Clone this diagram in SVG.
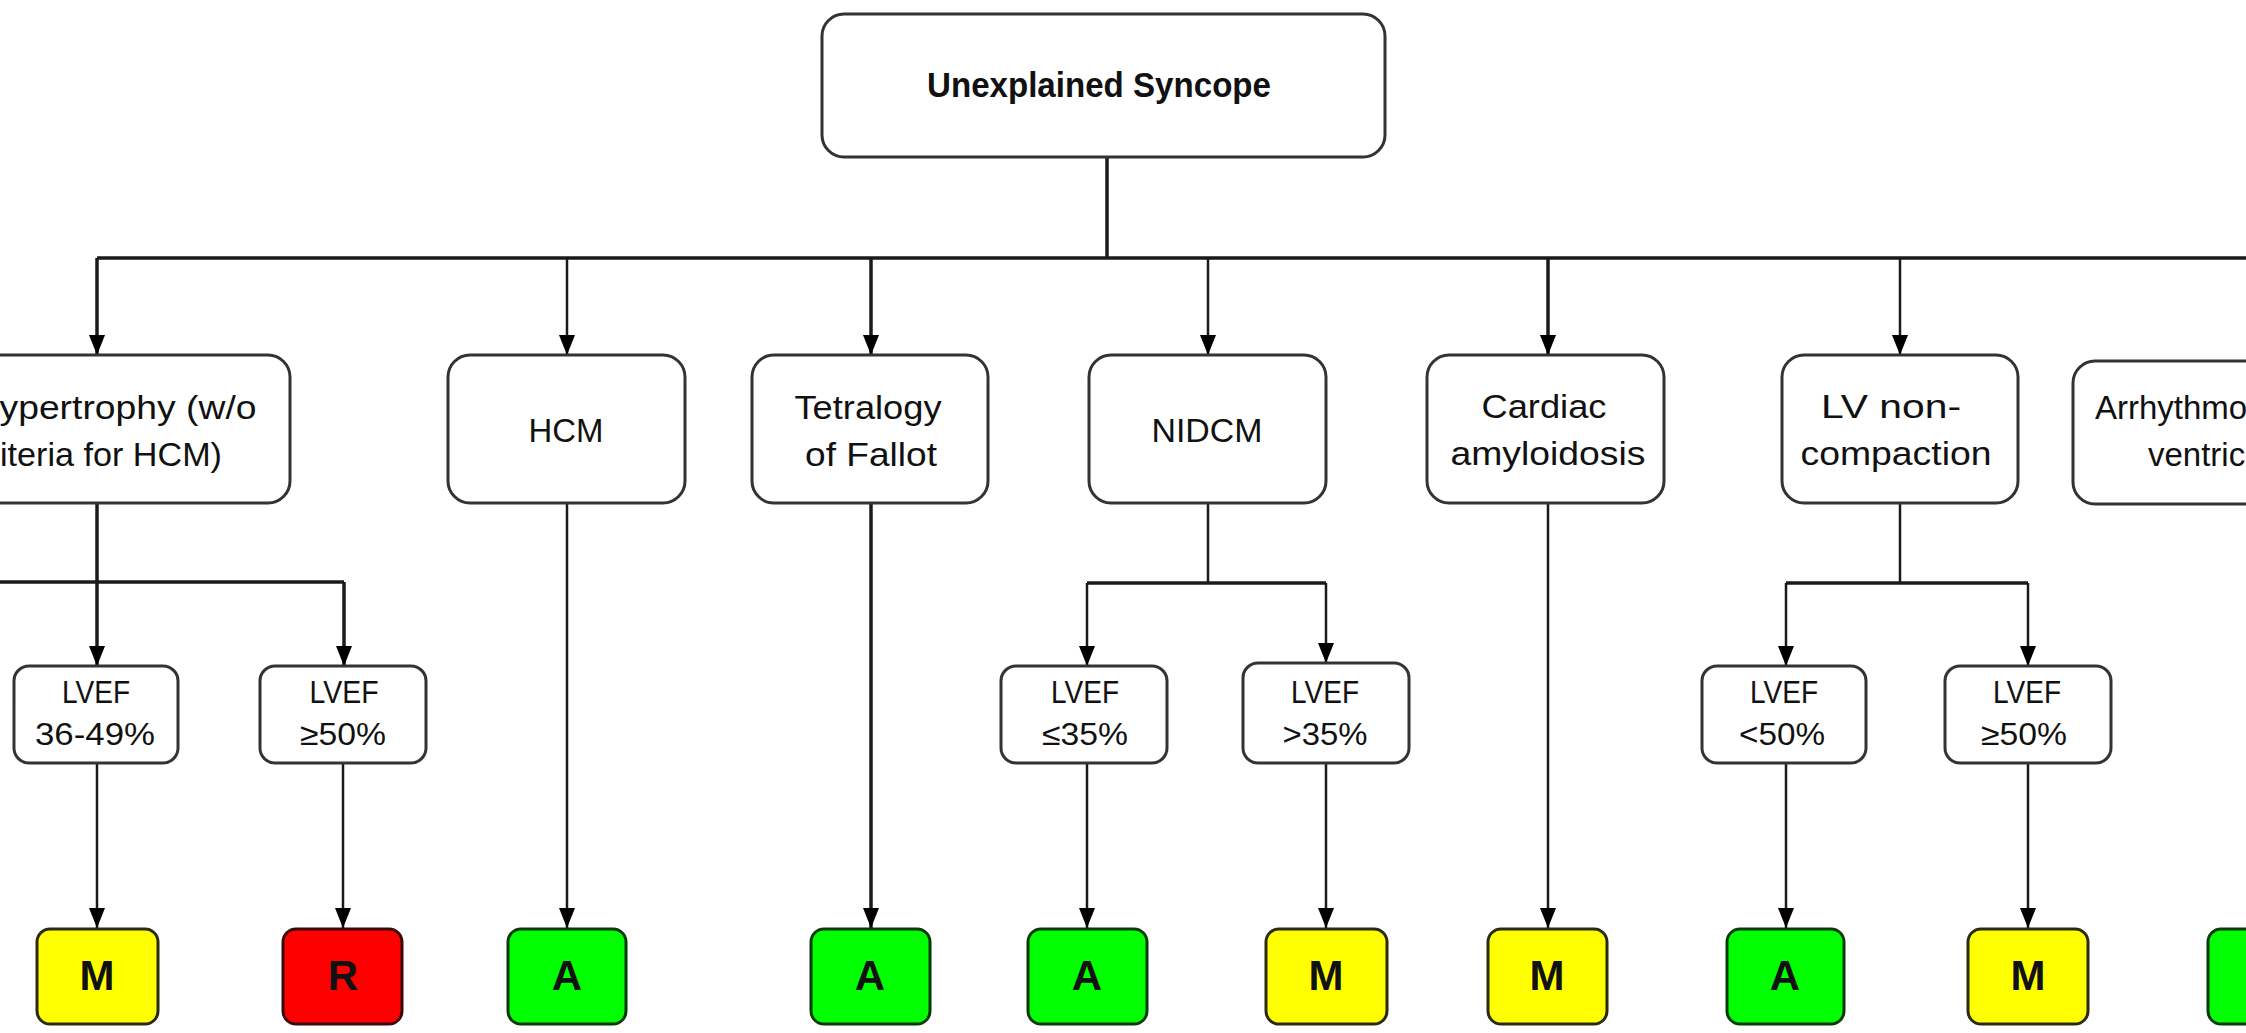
<svg xmlns="http://www.w3.org/2000/svg" width="2246" height="1033" viewBox="0 0 2246 1033">
<defs>
<style>
.box{fill:#fff;stroke:#333;stroke-width:3}
.t{font-family:"Liberation Sans",Arial,sans-serif;fill:#111;text-anchor:middle}
.l2{font-size:33px}
.lv{font-size:31px}
.root{font-size:35px;font-weight:bold}
.out{font-size:42px;font-weight:bold}
.c{fill:none;stroke:#1a1a1a}
.w3{stroke-width:3.5}
.w2{stroke-width:2.5}
.y{fill:#ffff00;stroke:#2a2a10;stroke-width:3}
.r{fill:#ff0000;stroke:#3a0a0a;stroke-width:3}
.g{fill:#00ff00;stroke:#063a06;stroke-width:3}
</style>
<marker id="ah" viewBox="0 0 20 16" refX="20" refY="8" markerWidth="20" markerHeight="16" markerUnits="userSpaceOnUse" orient="auto">
<path d="M0,0 L20,8 L0,16 Z" fill="#000"/>
</marker>
</defs>
<rect width="2246" height="1033" fill="#fff"/>

<g id="connectors">
<path class="c w3" d="M1107,157 V258"/>
<path class="c w3" d="M97,258 H2250"/>
<path class="c w3" d="M97,258 V355" marker-end="url(#ah)"/>
<path class="c w2" d="M567,258 V355" marker-end="url(#ah)"/>
<path class="c w3" d="M871,258 V355" marker-end="url(#ah)"/>
<path class="c w2" d="M1208,258 V355" marker-end="url(#ah)"/>
<path class="c w3" d="M1548,258 V355" marker-end="url(#ah)"/>
<path class="c w2" d="M1900,258 V355" marker-end="url(#ah)"/>

<path class="c w3" d="M97,503 V666" marker-end="url(#ah)"/>
<path class="c w3" d="M-10,582 H344"/>
<path class="c w3" d="M344,582 V666" marker-end="url(#ah)"/>

<path class="c w2" d="M567,503 V928" marker-end="url(#ah)"/>
<path class="c w3" d="M871,503 V928" marker-end="url(#ah)"/>

<path class="c w2" d="M1208,503 V583"/>
<path class="c w3" d="M1087,583 H1326"/>
<path class="c w2" d="M1087,583 V666" marker-end="url(#ah)"/>
<path class="c w2" d="M1326,583 V663" marker-end="url(#ah)"/>

<path class="c w2" d="M1548,503 V928" marker-end="url(#ah)"/>

<path class="c w2" d="M1900,503 V583"/>
<path class="c w3" d="M1786,583 H2028"/>
<path class="c w2" d="M1786,583 V666" marker-end="url(#ah)"/>
<path class="c w2" d="M2028,583 V666" marker-end="url(#ah)"/>

<path class="c w2" d="M97,763 V928" marker-end="url(#ah)"/>
<path class="c w2" d="M343,763 V928" marker-end="url(#ah)"/>
<path class="c w2" d="M1087,763 V928" marker-end="url(#ah)"/>
<path class="c w2" d="M1326,763 V928" marker-end="url(#ah)"/>
<path class="c w2" d="M1786,763 V928" marker-end="url(#ah)"/>
<path class="c w2" d="M2028,763 V928" marker-end="url(#ah)"/>
</g>

<g id="root">
<rect class="box" x="822" y="14" width="563" height="143" rx="22"/>
<text class="t root" x="1099" y="97" textLength="344" lengthAdjust="spacingAndGlyphs">Unexplained Syncope</text>
</g>

<g id="hypertrophy">
<rect class="box" x="-100" y="355" width="390" height="148" rx="22"/>
<text class="t l2" x="128" y="419" textLength="257" lengthAdjust="spacingAndGlyphs">ypertrophy (w/o</text>
<text class="t l2" x="111" y="466" textLength="222" lengthAdjust="spacingAndGlyphs">iteria for HCM)</text>
</g>

<g id="hcm">
<rect class="box" x="448" y="355" width="237" height="148" rx="22"/>
<text class="t l2" x="566" y="442" textLength="75" lengthAdjust="spacingAndGlyphs">HCM</text>
</g>

<g id="tetralogy">
<rect class="box" x="752" y="355" width="236" height="148" rx="22"/>
<text class="t l2" x="868" y="419" textLength="147" lengthAdjust="spacingAndGlyphs">Tetralogy</text>
<text class="t l2" x="871" y="466" textLength="132" lengthAdjust="spacingAndGlyphs">of Fallot</text>
</g>

<g id="nidcm">
<rect class="box" x="1089" y="355" width="237" height="148" rx="22"/>
<text class="t l2" x="1207" y="442" textLength="111" lengthAdjust="spacingAndGlyphs">NIDCM</text>
</g>

<g id="amyloidosis">
<rect class="box" x="1427" y="355" width="237" height="148" rx="22"/>
<text class="t l2" x="1544" y="418" textLength="125" lengthAdjust="spacingAndGlyphs">Cardiac</text>
<text class="t l2" x="1548" y="465" textLength="195" lengthAdjust="spacingAndGlyphs">amyloidosis</text>
</g>

<g id="lvnc">
<rect class="box" x="1782" y="355" width="236" height="148" rx="22"/>
<text class="t l2" x="1891" y="418" textLength="140" lengthAdjust="spacingAndGlyphs">LV non-</text>
<text class="t l2" x="1896" y="465" textLength="191" lengthAdjust="spacingAndGlyphs">compaction</text>
</g>

<g id="arvc">
<rect class="box" x="2073" y="361" width="260" height="143" rx="22"/>
<text class="t l2" x="2095" y="419" style="text-anchor:start">Arrhythmo</text>
<text class="t l2" x="2148" y="466" style="text-anchor:start">ventric</text>
</g>

<g id="lvef-36-49">
<rect class="box" x="14" y="666" width="164" height="97" rx="15"/>
<text class="t lv" x="96" y="703" textLength="68" lengthAdjust="spacingAndGlyphs">LVEF</text>
<text class="t lv" x="95" y="745" textLength="120" lengthAdjust="spacingAndGlyphs">36-49%</text>
</g>

<g id="lvef-ge50-a">
<rect class="box" x="260" y="666" width="166" height="97" rx="15"/>
<text class="t lv" x="344" y="703" textLength="69" lengthAdjust="spacingAndGlyphs">LVEF</text>
<text class="t lv" x="343" y="745" textLength="86" lengthAdjust="spacingAndGlyphs">≥50%</text>
</g>

<g id="lvef-le35">
<rect class="box" x="1001" y="666" width="166" height="97" rx="15"/>
<text class="t lv" x="1085" y="703" textLength="68" lengthAdjust="spacingAndGlyphs">LVEF</text>
<text class="t lv" x="1085" y="745" textLength="86" lengthAdjust="spacingAndGlyphs">≤35%</text>
</g>

<g id="lvef-gt35">
<rect class="box" x="1243" y="663" width="166" height="100" rx="15"/>
<text class="t lv" x="1325" y="703" textLength="68" lengthAdjust="spacingAndGlyphs">LVEF</text>
<text class="t lv" x="1325" y="745" textLength="85" lengthAdjust="spacingAndGlyphs">&gt;35%</text>
</g>

<g id="lvef-lt50">
<rect class="box" x="1702" y="666" width="164" height="97" rx="15"/>
<text class="t lv" x="1784" y="703" textLength="68" lengthAdjust="spacingAndGlyphs">LVEF</text>
<text class="t lv" x="1782" y="745" textLength="86" lengthAdjust="spacingAndGlyphs">&lt;50%</text>
</g>

<g id="lvef-ge50-b">
<rect class="box" x="1945" y="666" width="166" height="97" rx="15"/>
<text class="t lv" x="2027" y="703" textLength="68" lengthAdjust="spacingAndGlyphs">LVEF</text>
<text class="t lv" x="2024" y="745" textLength="86" lengthAdjust="spacingAndGlyphs">≥50%</text>
</g>

<g id="out-1"><rect class="y" x="37" y="929" width="121" height="95" rx="13"/><text class="t out" x="97" y="990">M</text></g>
<g id="out-2"><rect class="r" x="283" y="929" width="119" height="95" rx="13"/><text class="t out" x="343" y="990">R</text></g>
<g id="out-3"><rect class="g" x="508" y="929" width="118" height="95" rx="13"/><text class="t out" x="567" y="990">A</text></g>
<g id="out-4"><rect class="g" x="811" y="929" width="119" height="95" rx="13"/><text class="t out" x="870" y="990">A</text></g>
<g id="out-5"><rect class="g" x="1028" y="929" width="119" height="95" rx="13"/><text class="t out" x="1087" y="990">A</text></g>
<g id="out-6"><rect class="y" x="1266" y="929" width="121" height="95" rx="13"/><text class="t out" x="1326" y="990">M</text></g>
<g id="out-7"><rect class="y" x="1488" y="929" width="119" height="95" rx="13"/><text class="t out" x="1547" y="990">M</text></g>
<g id="out-8"><rect class="g" x="1727" y="929" width="117" height="95" rx="13"/><text class="t out" x="1785" y="990">A</text></g>
<g id="out-9"><rect class="y" x="1968" y="929" width="120" height="95" rx="13"/><text class="t out" x="2028" y="990">M</text></g>
<g id="out-10"><rect class="g" x="2208" y="929" width="120" height="95" rx="13"/></g>
</svg>
